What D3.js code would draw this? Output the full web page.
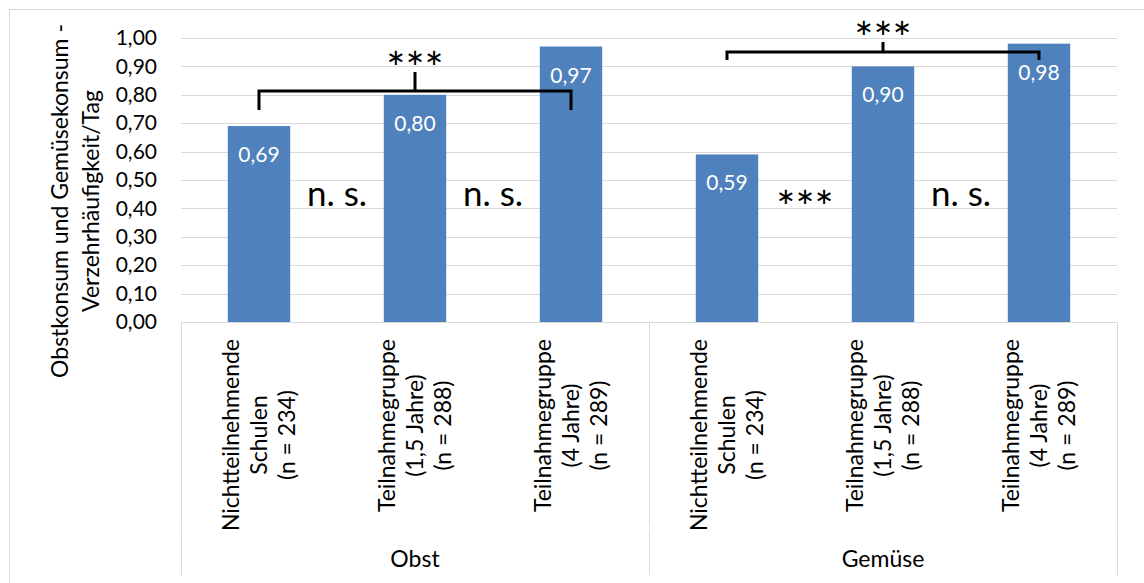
<!DOCTYPE html>
<html>
<head>
<meta charset="utf-8">
<script src="https://cdn.jsdelivr.net/npm/d3@7"></script>
<style>
  body { margin: 0; background: #fff; }
  svg { display: block; font-family: Lato, "Open Sans", sans-serif; }
</style>
</head>
<body>
<svg id="chart" width="1144" height="583"></svg>
<script>
// ---------- data ----------
const groups = ["Obst", "Gemüse"];
const categoryLines = [
  ["Nichtteilnehmende", "Schulen", "(n = 234)"],
  ["Teilnahmegruppe", "(1,5 Jahre)", "(n = 288)"],
  ["Teilnahmegruppe", "(4 Jahre)", "(n = 289)"]
];
const obstValues = [0.69, 0.80, 0.97];
const gemueseValues = [0.59, 0.90, 0.98];
const yTicks = [0, 0.1, 0.2, 0.3, 0.4, 0.5, 0.6, 0.7, 0.8, 0.9, 1.0];
const yTitleLines = ["Obstkonsum und Gemüsekonsum -", "Verzehrhäufigkeit/Tag"];
// pairwise tests between neighbouring bars
const pairTests = [
  { group: 0, from: 0, to: 1, label: "n. s." },
  { group: 0, from: 1, to: 2, label: "n. s." },
  { group: 1, from: 0, to: 1, label: "***" },
  { group: 1, from: 1, to: 2, label: "n. s." }
];
// bracket tests (first vs last bar of a group)
const bracketTests = [
  { group: 0, from: 0, to: 2, label: "***", level: 0.813 },
  { group: 1, from: 0, to: 2, label: "***", level: 0.951 }
];

// ---------- build table ----------
const seriesValues = [obstValues, gemueseValues];
const rows = [];
groups.forEach((g, gi) => {
  categoryLines.forEach((lines, ci) => {
    rows.push({ key: gi + "-" + ci, group: gi, cat: ci, lines: lines, value: seriesValues[gi][ci] });
  });
});
const keyOf = (gi, ci) => gi + "-" + ci;

// ---------- layout ----------
const svg = d3.select("#chart");
const plot = { left: 181, right: 1117, top: 38, bottom: 322 };
const axisBottom = 575, levelBreak = 528;
const barColor = "#4f81bd";
const gridColor = "#d9d9d9";
const baseFont = 21;
const labelFont = 23;

const x = d3.scaleBand()
  .domain(rows.map(d => d.key))
  .range([plot.left, plot.right])
  .paddingInner(0.6)
  .paddingOuter(0.3);
const cx = k => x(k) + x.bandwidth() / 2;

const y = d3.scaleLinear().domain([0, 1]).range([plot.bottom, plot.top]);
const fmt = v => d3.format(".2f")(v).replace(".", ",");

// outer frame
svg.append("rect")
  .attr("x", 9.5).attr("y", 9.5)
  .attr("width", 1200).attr("height", 700)
  .attr("fill", "none").attr("stroke", gridColor).attr("stroke-width", 1);

// gridlines + tick labels via axis
const yAxis = d3.axisLeft(y).tickValues(yTicks).tickSize(-(plot.right - plot.left)).tickFormat(fmt).tickPadding(24);
const gy = svg.append("g").attr("transform", `translate(${plot.left},0)`).call(yAxis);
gy.select(".domain").remove();
gy.selectAll(".tick line").attr("stroke", gridColor).attr("stroke-width", 1)
  .attr("shape-rendering", "crispEdges");
gy.selectAll(".tick text").attr("font-size", baseFont).attr("fill", "#000")
  .attr("font-family", "Lato, sans-serif");

// bars
svg.append("g").selectAll("rect").data(rows).join("rect")
  .attr("x", d => x(d.key))
  .attr("width", x.bandwidth())
  .attr("y", d => y(d.value))
  .attr("height", d => y(0) - y(d.value))
  .attr("fill", barColor);

// bar value labels (inside end)
svg.append("g").selectAll("text").data(rows).join("text")
  .attr("x", d => cx(d.key))
  .attr("y", d => y(d.value) + 36)
  .attr("text-anchor", "middle")
  .attr("font-size", baseFont)
  .attr("fill", "#fff")
  .text(d => fmt(d.value));

// category axis lines
const axisG = svg.append("g").attr("stroke", gridColor).attr("stroke-width", 1).attr("shape-rendering", "crispEdges");
axisG.append("line").attr("x1", plot.left).attr("x2", plot.right).attr("y1", plot.bottom + 0.5).attr("y2", plot.bottom + 0.5);
const groupEdges = [plot.left, plot.left + (plot.right - plot.left) / 2, plot.right];
groupEdges.forEach(ex => {
  axisG.append("line").attr("x1", ex + 0.5).attr("x2", ex + 0.5).attr("y1", plot.bottom).attr("y2", levelBreak - 1);
  axisG.append("line").attr("x1", ex + 0.5).attr("x2", ex + 0.5).attr("y1", levelBreak + 1).attr("y2", axisBottom);
});

// category labels (rotated, top aligned)
const labelTop = 339, lineGap = 28;
rows.forEach(d => {
  const g = svg.append("g");
  const texts = g.selectAll("text").data(d.lines).join("text")
    .attr("text-anchor", "middle")
    .attr("font-size", labelFont)
    .attr("fill", "#000")
    .attr("x", 0)
    .attr("y", (t, i) => cx(d.key) + (i - (d.lines.length - 1) / 2) * lineGap + 8)
    .text(t => t);
  const maxLen = d3.max(texts.nodes(), n => n.getComputedTextLength());
  g.attr("transform", `translate(0,${labelTop + maxLen / 2}) rotate(-90)`);
});

// group labels
groups.forEach((gname, gi) => {
  svg.append("text")
    .attr("x", (groupEdges[gi] + groupEdges[gi + 1]) / 2)
    .attr("y", 567)
    .attr("text-anchor", "middle")
    .attr("font-size", labelFont)
    .attr("fill", "#000")
    .text(gname);
});

// y axis title
const yt = svg.append("g").attr("transform", "translate(0,201) rotate(-90)");
yt.selectAll("text").data(yTitleLines).join("text")
  .attr("x", 0)
  .attr("y", (t, i) => 68 + i * 31)
  .attr("text-anchor", "middle")
  .attr("font-size", labelFont)
  .attr("fill", "#000")
  .text(t => t);

// significance labels
const sigFont = 35, starFont = 45;
function sigText(xc, centerY, label) {
  const isStar = label.indexOf("*") >= 0;
  svg.append("text")
    .attr("x", xc)
    .attr("y", isStar ? centerY + 0.6 * starFont : centerY + 10)
    .attr("text-anchor", "middle")
    .attr("font-size", isStar ? starFont : sigFont)
    .attr("fill", "#000")
    .text(label);
}
pairTests.forEach(t => {
  const x0 = cx(keyOf(t.group, t.from)), x1 = cx(keyOf(t.group, t.to));
  sigText((x0 + x1) / 2, y(0.445), t.label);
});

// brackets
bracketTests.forEach(t => {
  const x0 = cx(keyOf(t.group, t.from)), x1 = cx(keyOf(t.group, t.to));
  const xm = (x0 + x1) / 2;
  const yl = y(t.level);
  const drop = t.group === 0 ? 19 : 8;
  const rise = t.group === 0 ? 19 : 10;
  svg.append("path")
    .attr("d", `M${x0},${yl + drop} V${yl} H${x1} V${yl + drop} M${xm},${yl} V${yl - rise}`)
    .attr("fill", "none")
    .attr("stroke", "#000")
    .attr("stroke-width", 3);
  sigText(xm, yl - rise - 15, t.label);
});
</script>
</body>
</html>
